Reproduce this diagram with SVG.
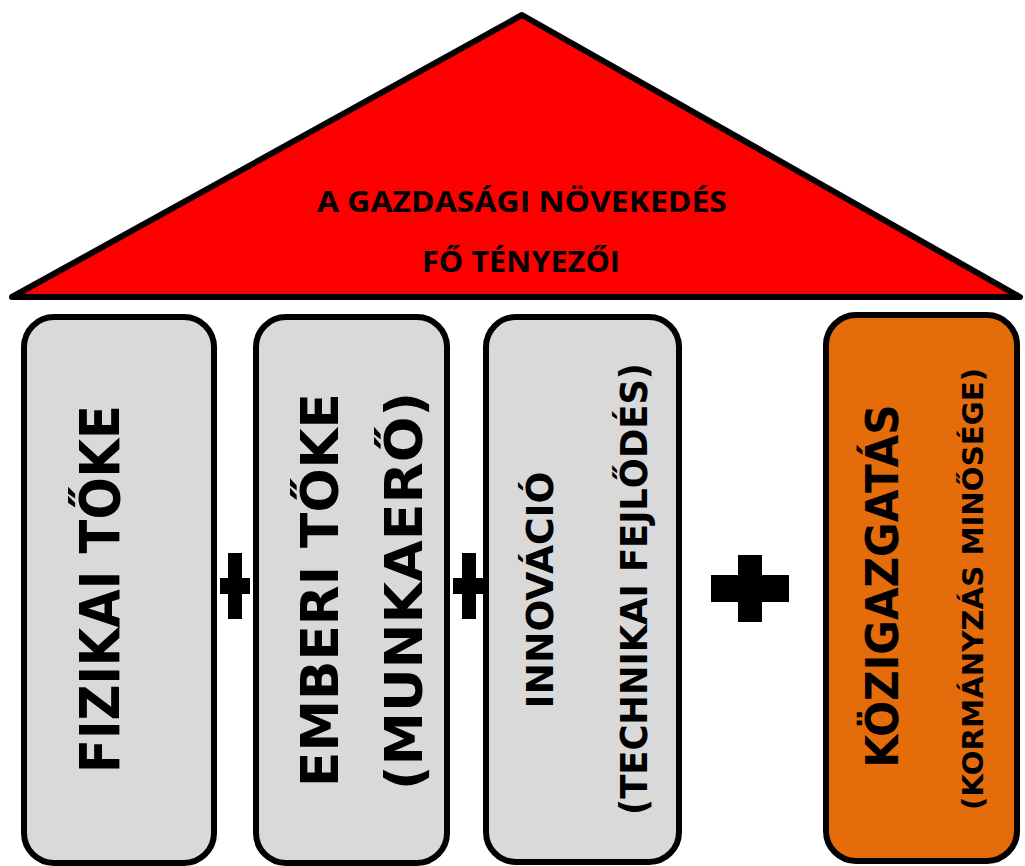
<svg xmlns="http://www.w3.org/2000/svg" width="1025" height="866" viewBox="0 0 1025 866">
<style>
.pillar{stroke:#000;stroke-width:6}
.grey{fill:#D9D9D9}
.orange{fill:#E46C0A}
.t{font-family:"DejaVu Sans","Liberation Sans",sans-serif;font-weight:bold;fill:#000;text-anchor:middle}
.roof{font-family:"Open Sans","Liberation Sans",sans-serif;font-weight:bold;fill:#000;text-anchor:middle;font-size:29px}
.plus{fill:#000}
</style>
<rect width="1025" height="866" fill="#fff"/>
<g id="roof">
<polygon points="12,297 522,15 1020,297" fill="#FF0000" stroke="#000" stroke-width="6" stroke-linejoin="round"/>
<text class="roof" x="522" y="212" textLength="410" lengthAdjust="spacingAndGlyphs">A GAZDASÁGI NÖVEKEDÉS</text>
<text class="roof" x="521" y="272" textLength="198" lengthAdjust="spacingAndGlyphs">FŐ TÉNYEZŐI</text>
</g>
<g id="pillar1">
<rect class="pillar grey" x="24" y="317" width="190" height="546" rx="30"/>
<text class="t" font-size="56" transform="translate(119,589) rotate(-90)" textLength="368" lengthAdjust="spacingAndGlyphs">FIZIKAI TŐKE</text>
</g>
<g id="pillar2">
<rect class="pillar grey" x="256" y="317" width="191" height="546" rx="30"/>
<text class="t" font-size="52" transform="translate(338,590) rotate(-90)" textLength="394" lengthAdjust="spacingAndGlyphs">EMBERI TŐKE</text>
<text class="t" font-size="51" transform="translate(422,591) rotate(-90)" textLength="398" lengthAdjust="spacingAndGlyphs">(MUNKAERŐ)</text>
</g>
<g id="pillar3">
<rect class="pillar grey" x="486" y="317" width="193" height="545" rx="30"/>
<text class="t" font-size="38" transform="translate(553,590) rotate(-90)" textLength="237" lengthAdjust="spacingAndGlyphs">INNOVÁCIÓ</text>
<text class="t" font-size="37" transform="translate(647,589) rotate(-90)" textLength="452" lengthAdjust="spacingAndGlyphs">(TECHNIKAI FEJLŐDÉS)</text>
</g>
<g id="pillar4">
<rect class="pillar orange" x="826" y="315" width="191" height="546" rx="30"/>
<text class="t" font-size="45" transform="translate(898,586) rotate(-90)" textLength="363" lengthAdjust="spacingAndGlyphs">KÖZIGAZGATÁS</text>
<text class="t" font-size="29" transform="translate(983,589) rotate(-90)" textLength="442" lengthAdjust="spacingAndGlyphs">(KORMÁNYZÁS MINŐSÉGE)</text>
</g>
<g id="connectors">
<g id="plus1" class="plus"><rect x="228" y="553" width="14" height="66"/><rect x="220" y="578" width="30" height="16"/></g>
<g id="plus2" class="plus"><rect x="462" y="553" width="14" height="66"/><rect x="453" y="578" width="30" height="16"/></g>
<g id="plus3" class="plus"><rect x="738" y="555" width="24" height="67"/><rect x="711" y="575" width="78" height="27"/></g>
</g>
</svg>
